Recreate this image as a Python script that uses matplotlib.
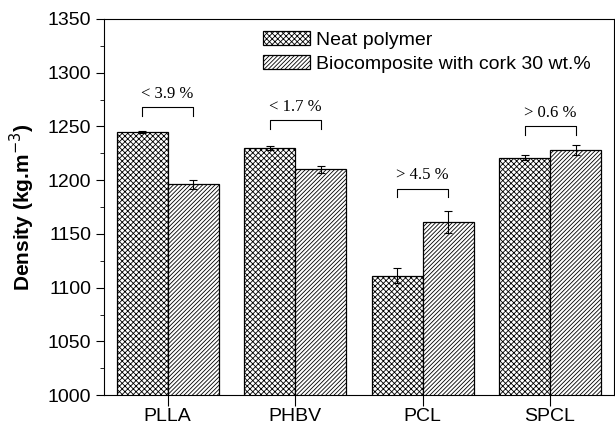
import matplotlib
matplotlib.use("Agg")
import matplotlib.pyplot as plt
import numpy as np

categories = ["PLLA", "PHBV", "PCL", "SPCL"]
neat = [1245, 1230, 1111, 1221]
neat_err = [1, 2, 7, 2]
bio = [1196, 1210, 1161, 1228]
bio_err = [4, 3, 10, 5]
diff_labels = ["< 3.9 %", "< 1.7 %", "> 4.5 %", "> 0.6 %"]
bracket_top = [1268, 1256, 1192, 1250]

plt.rcParams["font.family"] = ["Liberation Sans", "DejaVu Sans"]
plt.rcParams["hatch.linewidth"] = 0.6

fig = plt.figure(figsize=(6.15, 4.3), dpi=100)
ax = fig.add_axes([0.169, 0.081, 0.829, 0.875])

x = np.arange(len(categories))
w = 0.4
ax.bar(x - w/2, neat, w, yerr=neat_err, capsize=3, facecolor="white", edgecolor="black",
       linewidth=0.9, hatch="xxxxxx", label="Neat polymer",
       error_kw=dict(elinewidth=0.8, capthick=0.8, ecolor="black"))
ax.bar(x + w/2, bio, w, yerr=bio_err, capsize=3, facecolor="white", edgecolor="black",
       linewidth=0.9, hatch="////////", label="Biocomposite with cork 30 wt.%",
       error_kw=dict(elinewidth=0.8, capthick=0.8, ecolor="black"))

# brackets with percentage change
for i in x:
    top = bracket_top[i]
    ax.plot([i - w/2, i - w/2, i + w/2, i + w/2], [top - 8, top, top, top - 8],
            color="black", lw=0.8)
    ax.text(i, top + 5, diff_labels[i], ha="center", va="bottom", fontsize=12,
            family="Liberation Serif")

ax.set_xlim(-0.5, 3.5)
ax.set_ylim(1000, 1350)
ax.set_xticks(x)
ax.set_xticklabels(categories, fontsize=14)
ax.set_yticks(np.arange(1000, 1351, 50))
ax.set_yticks(np.arange(1000, 1351, 25), minor=True)
ax.tick_params(axis="y", which="major", direction="out", length=6, labelsize=14, pad=3)
ax.tick_params(axis="y", which="minor", direction="out", length=3)
ax.tick_params(axis="x", direction="out", length=8, labelsize=14, pad=1)
ax.set_ylabel("Density (kg.m$^{-3}$)", fontsize=15, fontweight="bold", labelpad=8)

ax.legend(loc="upper left", bbox_to_anchor=(0.29, 1.0), frameon=False, fontsize=14,
          handlelength=2.4, handleheight=0.8, labelspacing=0.3, borderaxespad=0.2,
          handletextpad=0.3)

fig.savefig("out.png", dpi=100)
